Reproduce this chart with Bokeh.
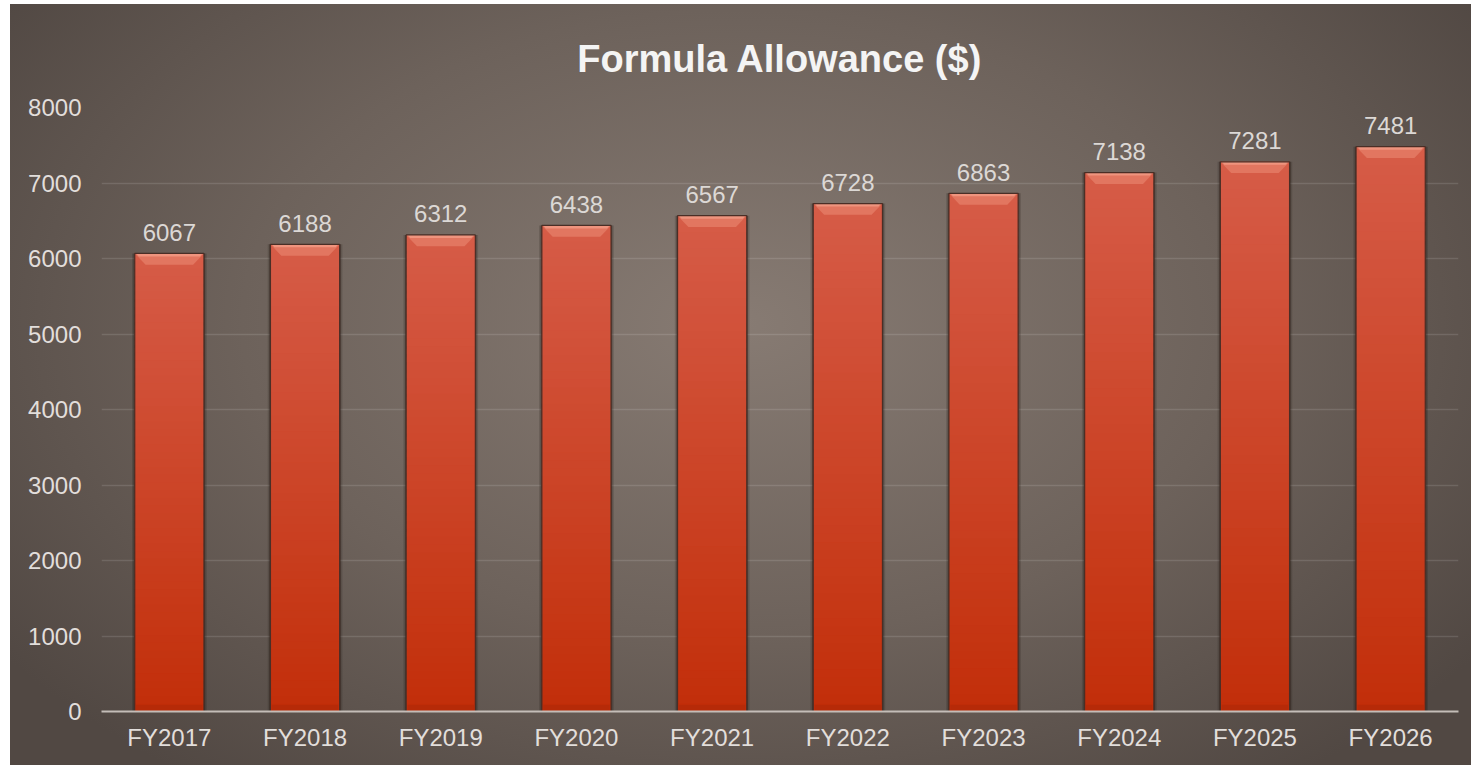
import numpy as np
from bokeh.plotting import figure
from bokeh.models import FixedTicker, Range1d, ColumnDataSource
from bokeh.embed import file_html
from bokeh.resources import INLINE
from bokeh.core.properties import value

# ---------------- data ----------------
categories = ["FY2017", "FY2018", "FY2019", "FY2020", "FY2021",
              "FY2022", "FY2023", "FY2024", "FY2025", "FY2026"]
allowance = [6067, 6188, 6312, 6438, 6567, 6728, 6863, 7138, 7281, 7481]
y_ticks = [0, 1000, 2000, 3000, 4000, 5000, 6000, 7000, 8000]
title_text = "Formula Allowance ($)"

FONT = "Liberation Sans"
xs = np.arange(len(categories), dtype=float)
vals = np.array(allowance, dtype=float)
BAR_W = 0.51

W, H = 1461, 761
ML, MR, MT, MB = 91, 13, 103, 54
p = figure(width=W, height=H, output_backend="svg", toolbar_location=None,
           x_range=Range1d(-0.5, len(categories) - 0.5),
           y_range=Range1d(0, 8000),
           min_border_left=ML, min_border_right=MR,
           min_border_top=MT, min_border_bottom=MB)
p.styles = {
    "margin-left": "10px",
    "margin-top": "4px",
    "background": "radial-gradient(ellipse 62% 75% at 50% 42%, #877b73 0%, #6d625b 55%, #514843 100%)",
}
p.background_fill_alpha = 0
p.border_fill_alpha = 0
p.outline_line_color = None

# title
p.title.text = title_text
p.title.align = "center"
p.title.text_font = FONT
p.title.text_font_size = "38px"
p.title.text_font_style = "bold"
p.title.text_color = "#f4f4f4"
p.title.standoff = 56

# axes
p.xaxis.ticker = FixedTicker(ticks=list(xs))
p.xaxis.major_label_overrides = {int(i): c for i, c in enumerate(categories)}
p.yaxis.ticker = FixedTicker(ticks=y_ticks)
for ax in (p.xaxis, p.yaxis):
    ax.major_tick_line_color = None
    ax.minor_tick_line_color = None
    ax.major_label_text_font = FONT
    ax.major_label_text_font_size = "24px"
    ax.major_label_text_color = "#e2dedb"
p.yaxis.axis_line_color = None
p.yaxis.major_label_standoff = 14
p.xaxis.axis_line_color = "#c4bdb8"
p.xaxis.axis_line_width = 2
p.xaxis.major_label_standoff = 6

p.xgrid.visible = False
p.ygrid.grid_line_color = "#ffffff"
p.ygrid.grid_line_alpha = 0.12
p.ygrid.grid_line_width = 1.5

# bar shadows
p.vbar(x=xs, top=vals, width=BAR_W + 0.04, bottom=0, fill_color="#1e1512",
       fill_alpha=0.18, line_color=None)
p.vbar(x=xs, top=vals, width=BAR_W + 0.018, bottom=0, fill_color="#1e1512",
       fill_alpha=0.35, line_color=None)

# bar gradient slices (bottom dark -> top light)
N = 60
bot_c = np.array([194, 46, 9], dtype=float)
top_c = np.array([214, 92, 72], dtype=float)
sx, sb, st, sc = [], [], [], []
for i, v in enumerate(vals):
    for k in range(N):
        t = (k + 0.5) / N
        c = bot_c + (top_c - bot_c) * t
        sx.append(xs[i])
        sb.append(v * k / N)
        st.append(min(v, v * (k + 1.6) / N))
        sc.append("#%02x%02x%02x" % tuple(int(round(q)) for q in c))
p.vbar(source=ColumnDataSource(dict(x=sx, bottom=sb, top=st, color=sc)),
       x="x", bottom="bottom", top="top", width=BAR_W,
       fill_color="color", line_color=None)

# bevel on top of bars
dx = 0.08
dy = 150
bev_x, bev_y = [], []
for i, v in enumerate(vals):
    xl, xr = xs[i] - BAR_W / 2, xs[i] + BAR_W / 2
    bev_x.append([xl, xr, xr - dx, xl + dx])
    bev_y.append([v, v, v - dy, v - dy])
p.patches(bev_x, bev_y, fill_color="#e27660", line_color=None)
hl_x, hl_y = [], []
for i, v in enumerate(vals):
    xl, xr = xs[i] - BAR_W / 2, xs[i] + BAR_W / 2
    hl_x.append([xl + 0.01, xr - 0.01, xr - 0.03, xl + 0.03])
    hl_y.append([v, v, v - 40, v - 40])
p.patches(hl_x, hl_y, fill_color="#f29c86", fill_alpha=0.8, line_color=None)

# subtle darker base of bars
p.vbar(x=xs, top=90, bottom=0, width=BAR_W - 0.02, fill_color="#a82606",
       fill_alpha=0.45, line_color=None)

# bar outline
p.vbar(x=xs, top=vals, bottom=0, width=BAR_W, fill_alpha=0,
       line_color="#4a2e26", line_width=1.2)

# data labels
p.text(x=xs, y=vals, text=[str(a) for a in allowance], text_align="center",
       text_baseline="alphabetic", y_offset=-21, text_font=value(FONT),
       text_font_size="24px", text_color="#dcd8d5")

open("out.html", "w").write(file_html(p, INLINE))
